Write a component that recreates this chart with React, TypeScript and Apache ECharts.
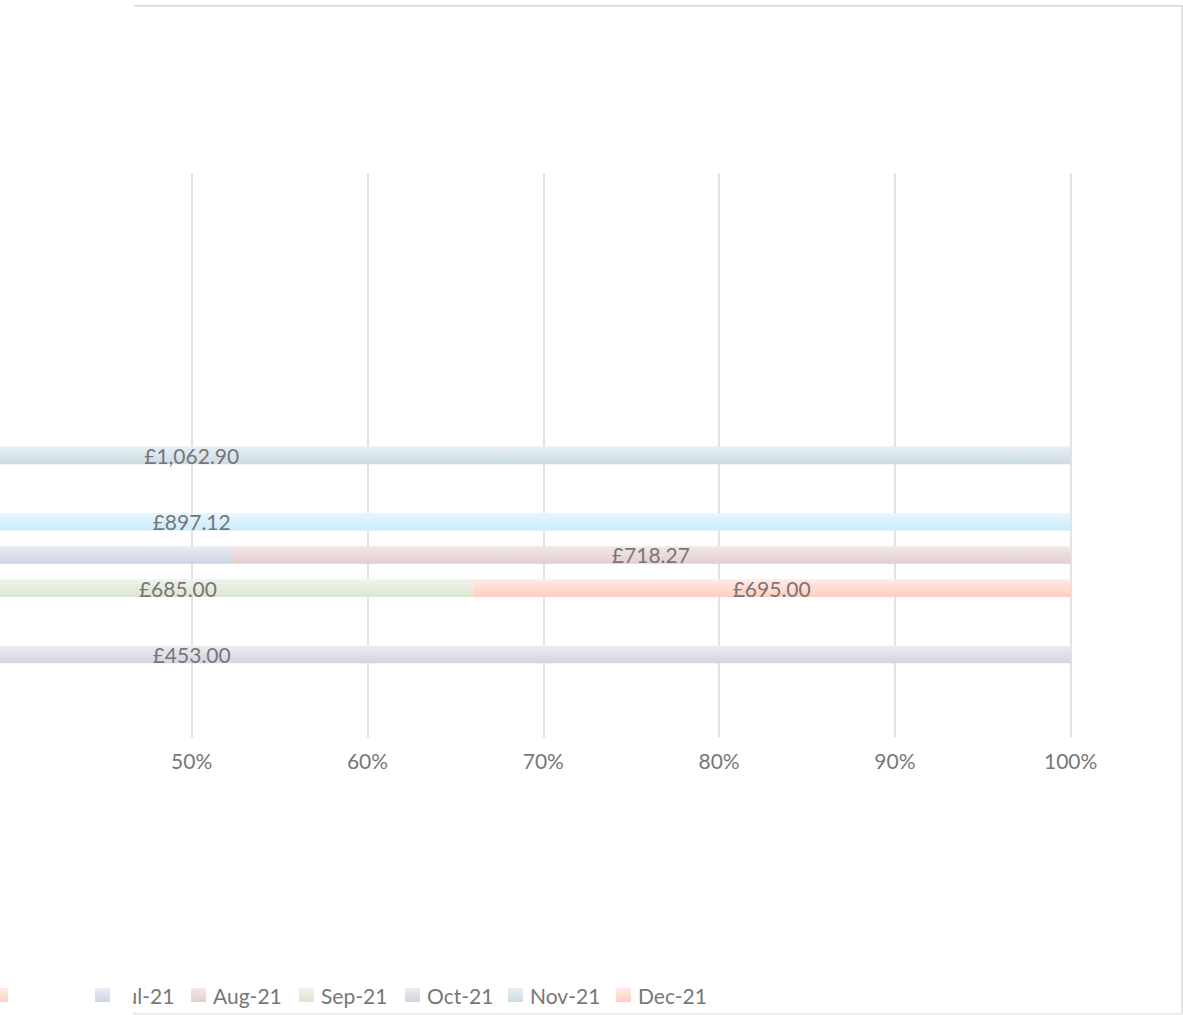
import React, { useEffect, useRef } from "react";
import * as echarts from "echarts";

// 17 category rows (index 0 = bottom row, Excel order); their labels are outside the visible crop
const CATEGORIES = [
  "Row 1", "Row 2", "Row 3", "Row 4", "Row 5", "Row 6", "Row 7", "Row 8", "Row 9",
  "Row 10", "Row 11", "Row 12", "Row 13", "Row 14", "Row 15", "Row 16", "Row 17",
];

const N = null;
const MAY_21 = [N, N, N, N, N, N, 897.12, N, N, N, N, N, N, N, N, N, N];
const JUN_21 = [N, N, N, N, N, N, N, N, N, N, N, N, N, N, N, N, N];
const JUL_21 = [N, N, N, N, N, 785.6, N, N, N, N, N, N, N, N, N, N, N];
const AUG_21 = [N, N, N, N, 663.0, 718.27, N, N, N, N, N, N, N, N, N, N, N];
const SEP_21 = [N, N, N, N, 685.0, N, N, N, N, N, N, N, N, N, N, N, N];
const OCT_21 = [N, N, 453.0, N, N, N, N, N, N, N, N, N, N, N, N, N, N];
const NOV_21 = [N, N, N, N, N, N, N, N, 1062.9, N, N, N, N, N, N, N, N];
const DEC_21 = [N, N, N, N, 695.0, N, N, N, N, N, N, N, N, N, N, N, N];

const SERIES_NAMES = ["May-21", "Jun-21", "Jul-21", "Aug-21", "Sep-21", "Oct-21", "Nov-21", "Dec-21"];
const SERIES_VALUES = [MAY_21, JUN_21, JUL_21, AUG_21, SEP_21, OCT_21, NOV_21, DEC_21];

// x axis (percent); only the part from ~40% up is inside the visible crop
const X_MIN = 0;
const X_MAX = 100;
const X_STEP = 10;
const X_FIRST_VISIBLE_TICK = 50;
const LABEL_VISIBLE_FROM = 40; // data labels centred left of this fall outside the crop

// styles (gradient top -> bottom)
const SERIES_COLORS: Record<string, [string, string]> = {
  "May-21": ["#e8f7fe", "#c8ebfc"],
  "Jun-21": ["#ffeae3", "#ffd3c5"],
  "Jul-21": ["#e9ecf4", "#cfd5e6"],
  "Aug-21": ["#f3e7e7", "#e2cfcf"],
  "Sep-21": ["#eff4eb", "#dbe6d2"],
  "Oct-21": ["#ececf0", "#d5d3df"],
  "Nov-21": ["#e8eff4", "#ccdbe5"],
  "Dec-21": ["#ffebe5", "#ffcebf"],
};

// the chart canvas is wider than the visible crop; it is shifted left by OFFSET px
const OFFSET = 800;
const CANVAS_W = 1983;
const VIEW_W = 1183;
const VIEW_H = 1015;

// legend layout (marker left edges in visible px)
const LEGEND_ITEMS = ["Jun-21", "Jul-21", "Aug-21", "Sep-21", "Oct-21", "Nov-21", "Dec-21"];
const LEGEND_LEFTS = [-7, 95, 191, 299, 405, 508, 616];

const FONT = "Lato, 'Open Sans', sans-serif";
const TEXT_COLOR = "#777777";
const GRID_COLOR = "#d9d9d9";

function fmtGBP(v: number): string {
  const fixed = v.toFixed(2);
  const [intPart, dec] = fixed.split(".");
  const withSep = intPart.replace(/\B(?=(\d{3})+(?!\d))/g, ",");
  return "£" + withSep + "." + dec;
}

export default function App() {
  const ref = useRef<HTMLDivElement>(null);

  useEffect(() => {
    if (!ref.current) return;
    const chart = echarts.init(ref.current, undefined, { renderer: "svg" });

    const totals = CATEGORIES.map((_, i) =>
      SERIES_VALUES.reduce((s, arr) => s + (arr[i] == null ? 0 : (arr[i] as number)), 0)
    );

    // running start (in %) of each segment, for label visibility
    const starts = CATEGORIES.map(() => 0);

    const series = SERIES_NAMES.map((name, si) => {
      const raw = SERIES_VALUES[si];
      const [c1, c2] = SERIES_COLORS[name];
      const data = raw.map((v, i) => {
        if (v == null || totals[i] === 0) return null;
        const pct = (v / totals[i]) * 100;
        const centre = starts[i] + pct / 2;
        starts[i] += pct;
        return {
          value: pct,
          label: { show: centre >= LABEL_VISIBLE_FROM },
        };
      });
      return {
        name,
        type: "bar",
        stack: "total",
        barWidth: "53%",
        z: 2,
        data,
        itemStyle: {
          color: new echarts.graphic.LinearGradient(0, 0, 0, 1, [
            { offset: 0, color: c1 },
            { offset: 1, color: c2 },
          ]),
        },
        label: {
          show: true,
          position: "inside",
          color: TEXT_COLOR,
          fontFamily: FONT,
          fontSize: 21,
          formatter: (p: any) => {
            const v = raw[p.dataIndex];
            return v == null ? "" : fmtGBP(v as number);
          },
        },
        emphasis: { disabled: true },
      };
    });

    const legends = LEGEND_ITEMS.map((name, i) => ({
      data: [name],
      left: LEGEND_LEFTS[i] + OFFSET,
      top: 983,
      orient: "horizontal",
      icon: "rect",
      itemWidth: 15,
      itemHeight: 14,
      padding: 0,
      textStyle: {
        color: TEXT_COLOR,
        fontFamily: FONT,
        fontSize: 21,
        lineHeight: 24,
        padding: [0, 0, 0, 2],
      },
    }));

    const X = (x: number) => x + OFFSET;

    chart.setOption({
      animation: false,
      backgroundColor: "#ffffff",
      grid: {
        left: X(-687.3),
        width: 1758,
        top: 173.3,
        height: 564.2,
        containLabel: false,
      },
      xAxis: {
        type: "value",
        min: X_MIN,
        max: X_MAX,
        interval: X_STEP,
        axisLine: { show: false },
        axisTick: { show: false },
        splitLine: { show: true, lineStyle: { color: GRID_COLOR, width: 1.5 } },
        axisLabel: {
          color: TEXT_COLOR,
          fontFamily: FONT,
          fontSize: 21,
          margin: 12,
          formatter: (v: number) => (v >= X_FIRST_VISIBLE_TICK ? v + "%" : ""),
        },
      },
      yAxis: {
        type: "category",
        data: CATEGORIES,
        axisLine: { show: false },
        axisTick: { show: false },
        axisLabel: { show: false },
        splitLine: { show: false },
      },
      legend: legends,
      series,
      graphic: [
        // white panel left of x=133 that hides grid lines but lies beneath the bars
        {
          type: "rect",
          z: 1,
          shape: { x: 0, y: 0, width: X(133), height: VIEW_H },
          style: { fill: "#ffffff" },
        },
        {
          type: "line",
          z: 50,
          shape: { x1: X(134), y1: 5.8, x2: X(1182.2), y2: 5.8 },
          style: { stroke: GRID_COLOR, lineWidth: 1.5 },
        },
        {
          type: "line",
          z: 50,
          shape: { x1: X(1182.2), y1: 5, x2: X(1182.2), y2: 1014 },
          style: { stroke: GRID_COLOR, lineWidth: 1.5 },
        },
        {
          type: "line",
          z: 50,
          shape: { x1: X(133), y1: 1013.8, x2: X(1182.2), y2: 1013.8 },
          style: { stroke: "#e6e6e6", lineWidth: 1.5 },
        },
        {
          type: "rect",
          z: 100,
          shape: { x: X(9), y: 976, width: 85, height: 39 },
          style: { fill: "#ffffff" },
        },
        {
          type: "rect",
          z: 100,
          shape: { x: X(112), y: 976, width: 21, height: 39 },
          style: { fill: "#ffffff" },
        },
      ],
    });

    return () => chart.dispose();
  }, []);

  return (
    <div
      style={{
        position: "absolute",
        left: 0,
        top: 0,
        width: VIEW_W,
        height: VIEW_H,
        overflow: "hidden",
        background: "#fff",
      }}
    >
      <div
        ref={ref}
        style={{ position: "absolute", left: -OFFSET, top: 0, width: CANVAS_W, height: VIEW_H }}
      />
    </div>
  );
}
